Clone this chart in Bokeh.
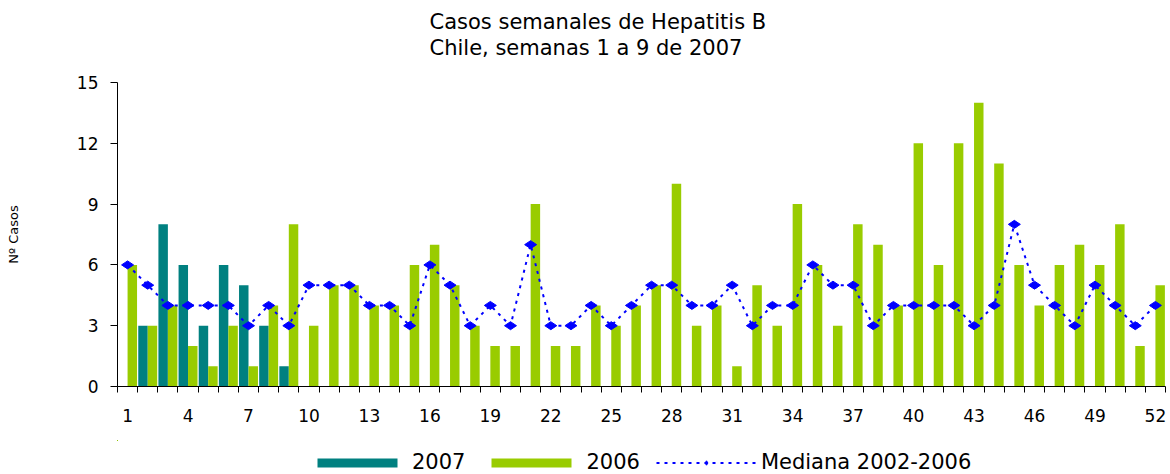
import math
from bokeh.plotting import figure
from bokeh.layouts import column
from bokeh.models import (Range1d, FixedTicker, Legend, LegendItem, Title,
                          ColumnDataSource)
from bokeh.transform import dodge
from bokeh.embed import file_html
from bokeh.resources import INLINE

# ---- data ----
weeks = list(range(1, 53))
cases_2006 = [6, 3, 4, 2, 1, 3, 1, 4, 8, 3, 5, 5, 4, 4, 6, 7, 5, 3, 2, 2,
              9, 2, 2, 4, 3, 4, 5, 10, 3, 4, 1, 5, 3, 9, 6, 3, 8, 7, 4, 12,
              6, 12, 14, 11, 6, 4, 6, 7, 6, 8, 2, 5]
weeks_2007 = list(range(1, 10))
cases_2007 = [0, 3, 8, 6, 3, 6, 5, 3, 1]
median_02_06 = [6, 5, 4, 4, 4, 4, 3, 4, 3, 5, 5, 5, 4, 4, 3, 6, 5, 3, 4, 3,
                7, 3, 3, 4, 3, 4, 5, 5, 4, 4, 5, 3, 4, 4, 6, 5, 5, 3, 4, 4,
                4, 4, 3, 4, 8, 5, 4, 3, 5, 4, 3, 4]
x_tick_labels = weeks[::3]
y_ticks = [0, 3, 6, 9, 12, 15]

title_lines = ["Casos semanales de Hepatitis B", "Chile, semanas 1 a 9 de 2007"]
y_label = "Nº Casos"
series_names = ["2007", "2006", "Mediana 2002-2006"]

TEAL = "#008080"
GREEN = "#99CC00"
BLUE = "#0000FF"
FONT = "DejaVu Sans"

src06 = ColumnDataSource(dict(week=weeks, cases=cases_2006, med=median_02_06))
src07 = ColumnDataSource(dict(week=weeks_2007, cases=cases_2007))


def draw_series(fig):
    b07 = fig.vbar(x=dodge("week", -0.235, range=fig.x_range), top="cases",
                   width=0.47, source=src07, fill_color=TEAL, line_color=None)
    b06 = fig.vbar(x=dodge("week", 0.235, range=fig.x_range), top="cases",
                   width=0.47, source=src06, fill_color=GREEN, line_color=None)
    ln = fig.line(x="week", y="med", source=src06, line_color=BLUE,
                  line_width=2, line_dash="3 5")
    mk = fig.scatter(x="week", y="med", source=src06, marker="diamond", size=12,
                     angle=math.pi / 2, fill_color=BLUE, line_color=BLUE)
    return b07, b06, ln, mk


p = figure(width=1170, height=440, output_backend="svg", toolbar_location=None,
           x_range=Range1d(0.5, 52.5), y_range=Range1d(0, 15), title=None,
           min_border_left=117, min_border_right=5, min_border_top=82,
           min_border_bottom=54)
p.outline_line_color = None
p.xgrid.visible = False
p.ygrid.visible = False
p.background_fill_color = "white"
p.border_fill_color = "white"
draw_series(p)

# axes
xa = p.xaxis[0]
xa.ticker = FixedTicker(ticks=x_tick_labels,
                        minor_ticks=[w - 0.5 for w in weeks] + [weeks[-1] + 0.5])
xa.major_tick_line_color = None
xa.minor_tick_out = 6
xa.minor_tick_in = 0
xa.minor_tick_line_color = "black"
xa.axis_line_color = "black"
xa.major_label_text_font = FONT
xa.major_label_text_font_size = "17px"
xa.major_label_text_color = "black"
xa.major_label_standoff = 16

ya = p.yaxis[0]
ya.ticker = FixedTicker(ticks=y_ticks)
ya.major_tick_out = 7
ya.major_tick_in = 0
ya.minor_tick_line_color = None
ya.axis_line_color = "black"
ya.major_tick_line_color = "black"
ya.major_label_text_font = FONT
ya.major_label_text_font_size = "17px"
ya.major_label_text_color = "black"
ya.major_label_standoff = 12
ya.axis_label = y_label
ya.axis_label_text_font = FONT
ya.axis_label_text_font_size = "13px"
ya.axis_label_text_font_style = "normal"
ya.axis_label_text_color = "black"
ya.axis_label_standoff = 53

# titles: spacer next to the frame, then the two-line title
spacer_top = Title(text=" ", text_font_size="10px", standoff=3)
title = Title(text="\n".join(title_lines), align="left", offset=312, standoff=12,
              text_font=FONT, text_font_size="21px", text_font_style="normal",
              text_color="black", text_line_height=1.1)
p.add_layout(spacer_top, "above")
p.add_layout(title, "above")

# ---- legend strip (small figure under the chart; its view range shows no data) ----
lf = figure(width=1170, height=34, output_backend="svg", toolbar_location=None,
            x_range=Range1d(1000, 1001), y_range=Range1d(-2, -1),
            x_axis_type=None, y_axis_type=None,
            min_border_left=0, min_border_right=0, min_border_top=0,
            min_border_bottom=0)
lf.outline_line_color = None
lf.xgrid.visible = False
lf.ygrid.visible = False
k07, k06, kl, km = draw_series(lf)

legend = Legend(items=[LegendItem(label=series_names[0], renderers=[k07]),
                       LegendItem(label=series_names[1], renderers=[k06]),
                       LegendItem(label=series_names[2], renderers=[kl, km])],
                orientation="horizontal", location=(190, 0),
                glyph_width=100, glyph_height=11, label_standoff=5, spacing=16,
                padding=0, margin=0, border_line_color=None,
                background_fill_alpha=0,
                label_text_font=FONT, label_text_font_size="21px",
                label_text_color="black")
lf.add_layout(legend, "center")

layout = column(p, lf, spacing=0)
open("out.html", "w").write(file_html(layout, INLINE))
